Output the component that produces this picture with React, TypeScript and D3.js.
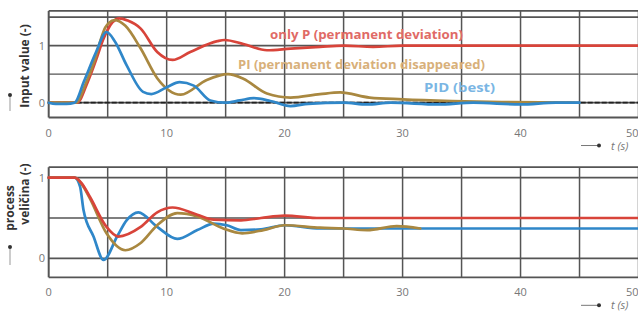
import * as d3 from "d3";

// time axis ticks
const xTicks = [0, 10, 20, 30, 40, 50];
const xGrid = [5, 10, 15, 20, 25, 30, 35, 40, 45, 50];

// top panel: controller output ("Input value")
const pTimeTop = [0, 1, 2.4, 3.3, 4.1, 4.6, 5.0, 5.4, 6.0, 6.7, 7.8, 9.2, 10.5, 12, 14.3, 14.9, 16.5, 18.5, 20.5, 23, 25, 27.5, 30, 40, 50];
const pInput = [0, 0, 0, 0.36, 0.8, 1.1, 1.28, 1.41, 1.48, 1.44, 1.3, 0.89, 0.75, 0.89, 1.08, 1.1, 1.03, 0.92, 0.95, 0.98, 1.0, 0.98, 1.0, 1.0, 1.0];

const piTimeTop = [0, 1, 2.3, 3.15, 3.95, 4.4, 4.8, 5.1, 5.6, 6.5, 7.8, 9.2, 11.2, 13.4, 15.2, 16.5, 18.5, 20.5, 23, 24.7, 27.2, 30, 34.2, 38.4, 44.5];
const piInput = [0, 0, 0, 0.34, 0.78, 1.1, 1.32, 1.4, 1.45, 1.35, 0.95, 0.43, 0.14, 0.4, 0.5, 0.42, 0.16, 0.09, 0.15, 0.18, 0.09, 0.06, 0.03, 0.01, 0];

const pidTimeTop = [0, 0.6, 1.5, 2.2, 3, 4, 4.9, 5.6, 6.6, 8, 8.7, 10, 11.1, 12.3, 13.7, 15, 16.2, 17.4, 18.8, 20.5, 22, 25, 27, 29, 33, 36, 40, 43, 45];
const pidInput = [0, -0.02, -0.02, 0, 0.38, 0.88, 1.24, 1.08, 0.66, 0.19, 0.15, 0.27, 0.36, 0.3, 0.04, 0, 0.04, 0.08, 0.03, -0.06, -0.02, 0, -0.03, 0, -0.03, 0, -0.03, 0, 0];

// bottom panel: process variable
const pTimeBot = [0, 2.2, 2.8, 3.5, 4.9, 5.9, 7.8, 9.2, 10.5, 12.6, 14, 16.3, 18, 20, 23, 26, 50];
const pProcess = [1, 1, 0.93, 0.76, 0.39, 0.27, 0.39, 0.57, 0.63, 0.54, 0.48, 0.47, 0.5, 0.53, 0.5, 0.5, 0.5];

const piTimeBot = [0, 2.2, 2.8, 3.5, 4.9, 6.5, 7.8, 9.2, 10.9, 12.6, 14.8, 16.4, 18.2, 20, 23, 25, 27, 29.5, 31.5];
const piProcess = [1, 1, 0.92, 0.74, 0.31, 0.1, 0.19, 0.41, 0.56, 0.52, 0.37, 0.31, 0.35, 0.41, 0.38, 0.37, 0.35, 0.4, 0.37];

const pidTimeBot = [0, 2.2, 2.66, 2.95, 3.8, 4.65, 5.8, 6.6, 7.6, 9.2, 10.9, 12.6, 14, 15.1, 16.3, 18, 20, 23, 26, 50];
const pidProcess = [1, 1, 0.89, 0.6, 0.27, -0.02, 0.27, 0.47, 0.57, 0.39, 0.24, 0.35, 0.43, 0.41, 0.35, 0.36, 0.41, 0.37, 0.37, 0.37];

const RED = "#d8443a";
const TAN = "#a98840";
const BLUE = "#2f87c9";
const GRID = "#555";

const x = d3.scaleLinear().domain([0, 50]).range([48.7, 638.5]);

function Panel({ yTop, yBot, frame, hLines, series, dashedZero }: any) {
  const y = d3.scaleLinear().domain([0, 1]).range([yBot, yTop]);
  const top = y(frame[1]);
  const bot = y(frame[0]);
  const line = (t: number[], v: number[]) =>
    d3
      .line<number>()
      .x((d, i) => x(t[i]))
      .y((d) => y(d))
      .curve(d3.curveMonotoneX)(v) || "";
  return (
    <g>
      {xGrid.map((t) => (
        <line key={"v" + t} x1={x(t)} x2={x(t)} y1={top} y2={bot} stroke={GRID} strokeWidth={1.5} />
      ))}
      <line x1={x(0)} x2={x(0)} y1={top} y2={bot} stroke={GRID} strokeWidth={2} />
      {[frame[0], frame[1]].map((v, i) => (
        <line key={"f" + i} x1={x(0)} x2={x(50)} y1={y(v)} y2={y(v)} stroke={GRID} strokeWidth={1.8} />
      ))}
      {hLines.map((v: number) => (
        <line key={"h" + v} x1={x(0)} x2={x(50)} y1={y(v)} y2={y(v)} stroke={GRID} strokeWidth={v === 0.5 ? 1.3 : 1.8} />
      ))}
      {dashedZero && (
        <line x1={x(0)} x2={x(50)} y1={y(0)} y2={y(0)} stroke="#222" strokeWidth={1.8} strokeDasharray="5 2" />
      )}
      {[0, 1].map((v) => (
        <text key={"yl" + v} x={42} y={y(v) + 4} fontSize={11} fill="#777" textAnchor="middle" fontFamily="Open Sans, sans-serif">
          {v}
        </text>
      ))}
      {xTicks.map((t) => (
        <text
          key={"xl" + t}
          x={x(t)}
          y={bot + 19}
          fontSize={11}
          fill="#777"
          textAnchor={t === 50 ? "end" : "middle"}
          fontFamily="Open Sans, sans-serif"
        >
          {t}
        </text>
      ))}
      {series.map((s: any, i: number) => (
        <path key={"s" + i} d={line(s.t, s.v)} fill="none" stroke={s.color} strokeWidth={2.7} strokeLinejoin="round" strokeLinecap="round" />
      ))}
      <g transform={`translate(0, ${bot + 28})`}>
        <line x1={581} x2={599} y1={0} y2={0} stroke="#777" strokeWidth={1} />
        <circle cx={599} cy={0} r={2} fill="#333" />
        <text x={611} y={4} fontSize={11} fill="#777" fontStyle="italic" fontFamily="Open Sans, sans-serif">
          t (s)
        </text>
      </g>
    </g>
  );
}

export default function App() {
  return (
    <svg width={638} height={311} style={{ position: "absolute", left: 0, top: 0, background: "#fff" }}>
      <Panel
        yTop={45.7}
        yBot={102.7}
        frame={[-0.26, 1.61]}
        hLines={[0, 0.5, 1, 1.5]}
        dashedZero={true}
        series={[
          { t: pTimeTop, v: pInput, color: RED },
          { t: piTimeTop, v: piInput, color: TAN },
          { t: pidTimeTop, v: pidInput, color: BLUE },
        ]}
      />
      <Panel
        yTop={177.7}
        yBot={258.3}
        frame={[-0.236, 1.13]}
        hLines={[0, 0.5, 1]}
        dashedZero={false}
        series={[
          { t: pidTimeBot, v: pidProcess, color: BLUE },
          { t: piTimeBot, v: piProcess, color: TAN },
          { t: pTimeBot, v: pProcess, color: RED },
        ]}
      />
      <g fontFamily="Open Sans, sans-serif" fontWeight="bold" fontSize={12}>
        <text x={270} y={39} fill="#e06a66" textLength={193} lengthAdjust="spacingAndGlyphs">
          only P (permanent deviation)
        </text>
        <text x={238} y={69} fill="#d8b07a" textLength={247} lengthAdjust="spacingAndGlyphs">
          PI (permanent deviation disappeared)
        </text>
        <text x={424} y={92} fill="#7ab6e4" textLength={71} lengthAdjust="spacingAndGlyphs">
          PID (best)
        </text>
      </g>
      <g fontFamily="Open Sans, sans-serif" fontWeight="bold" fontSize={12} fill="#333">
        <text transform="translate(29, 66) rotate(-90)" textAnchor="middle">
          Input value (-)
        </text>
        <text transform="translate(14, 208) rotate(-90)" textAnchor="middle">
          process
        </text>
        <text transform="translate(29, 194) rotate(-90)" textAnchor="middle">
          veličina (-)
        </text>
      </g>
      <g>
        <line x1={10} x2={10} y1={95} y2={111} stroke="#999" strokeWidth={1} />
        <circle cx={10} cy={95} r={2} fill="#333" />
        <line x1={10} x2={10} y1={247} y2={265} stroke="#999" strokeWidth={1} />
        <circle cx={10} cy={247} r={2} fill="#333" />
      </g>
    </svg>
  );
}
